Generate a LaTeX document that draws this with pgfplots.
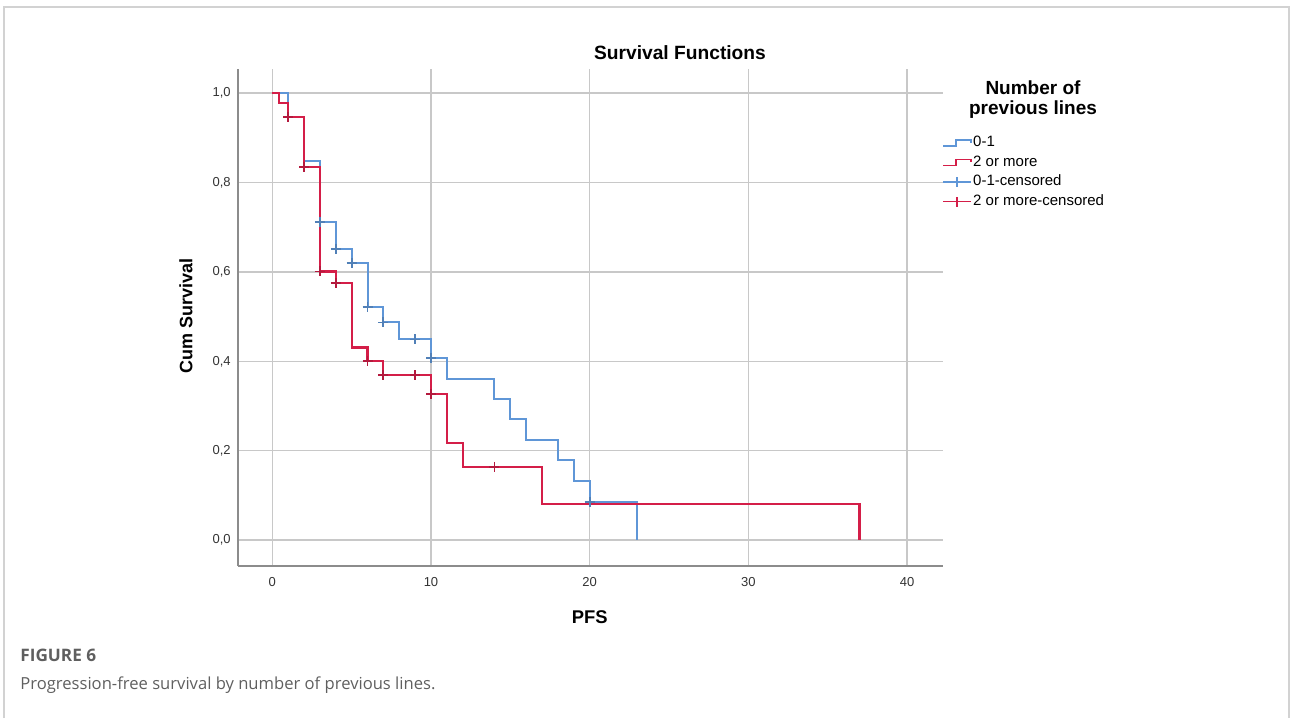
\documentclass[border=0pt]{standalone}
\usepackage{fontspec}
\setmainfont{Liberation Sans}
\newfontfamily\capfont{Open Sans}
\usepackage{pgfplots}
\pgfplotsset{compat=1.18}
\definecolor{kmblue}{RGB}{95,150,215}
\definecolor{kmred}{RGB}{212,30,72}
\definecolor{gridc}{RGB}{200,200,200}
\definecolor{axc}{RGB}{140,140,140}
\definecolor{framec}{RGB}{210,210,210}
\definecolor{capc}{RGB}{95,95,95}
\begin{document}
\begin{tikzpicture}
\path[use as bounding box] (0,0) rectangle (645pt,359pt);
\draw[framec, line width=0.9pt] (2pt,0) -- (2pt,355.3pt) -- (644.3pt,355.3pt) -- (644.3pt,0);
\begin{axis}[
  at={(119pt,76pt)}, anchor=south west,
  scale only axis, width=352.5pt, height=248.5pt,
  xmin=-2.16, xmax=42.26, ymin=-0.058, ymax=1.054,
  axis x line*=bottom, axis y line*=left,
  axis line style={-, axc, line width=0.8pt},
  xtick={0,10,20,30,40}, ytick={0,0.2,0.4,0.6,0.8,1.0},
  major tick length=0pt,
  grid=major, major grid style={gridc, line width=0.75pt},
  /pgf/number format/assume math mode=true,
  yticklabel style={/pgf/number format/.cd, fixed, fixed zerofill, precision=1, use comma, /tikz/.cd, font=\fontsize{6.5}{7}\selectfont, inner sep=0pt, xshift=-3.5pt, text=black!80},
  xticklabel style={font=\fontsize{6.5}{7}\selectfont, inner sep=0pt, yshift=-5.5pt, text=black!80},
  xlabel={\bfseries PFS}, ylabel={\bfseries Cum Survival},
  xlabel style={font=\fontsize{9.2}{10}\selectfont, at={(axis description cs:0.499,-0.103)}, anchor=center},
  ylabel style={font=\fontsize{9}{10}\selectfont, at={(axis description cs:-0.0738,0.503)}, anchor=center, rotate=0},
  legend cell align=left,
  legend style={at={(axis description cs:0.9986,0.869)}, anchor=north west, draw=none, fill=none, inner sep=0pt,
    font=\fontsize{7.5}{8}\selectfont, row sep=1.6pt,
    nodes={inner sep=0.6pt, text height=5.5pt, text depth=1.5pt}},
  clip=false,
]
\addplot[const plot, kmblue, line width=1pt,
  legend image code/.code={\draw[kmblue, line width=0.8pt] (0pt,-1.5pt) -- (6.5pt,-1.5pt) -- (6.5pt,1.5pt) -- (14pt,1.5pt) -- (14pt,0pt);}]
  coordinates {(0,1) (1,0.947) (2,0.848) (3,0.711) (4,0.652) (5,0.620) (6,0.522) (7,0.487) (8,0.449) (10,0.407) (11,0.361) (14,0.316) (15,0.271) (16,0.224) (18,0.179) (19,0.133) (20,0.086) (23,0)};
\addlegendentry{0-1}
\addplot[const plot, kmred, line width=1.1pt,
  legend image code/.code={\draw[kmred, line width=0.8pt] (0pt,-1.5pt) -- (6.5pt,-1.5pt) -- (6.5pt,1.5pt) -- (14pt,1.5pt) -- (14pt,0pt);}]
  coordinates {(0,1) (0.4,0.978) (1,0.947) (2,0.835) (3,0.601) (4,0.575) (5,0.431) (6,0.401) (7,0.369) (10,0.327) (11,0.218) (12,0.164) (17,0.081) (37,0)};
\addlegendentry{2 or more}
\addplot[only marks, mark=+, mark size=2.5pt, kmblue!85!black, mark options={line width=0.9pt},
  legend image code/.code={\draw[kmblue, line width=0.8pt] (0pt,0pt) -- (14pt,0pt); \draw[kmblue, line width=0.8pt] (7pt,-2.5pt) -- (7pt,2.5pt);}]
  coordinates {(3,0.711) (4,0.652) (5,0.620) (6,0.522) (7,0.487) (9,0.449) (10,0.407) (20,0.086)};
\addlegendentry{0-1-censored}
\addplot[only marks, mark=+, mark size=2.5pt, kmred!85!black, mark options={line width=0.9pt},
  legend image code/.code={\draw[kmred, line width=0.8pt] (0pt,0pt) -- (14pt,0pt); \draw[kmred, line width=0.8pt] (7pt,-2.5pt) -- (7pt,2.5pt);}]
  coordinates {(1,0.947) (2,0.835) (3,0.601) (4,0.575) (6,0.401) (7,0.369) (9,0.369) (10,0.327) (14,0.164)};
\addlegendentry{2 or more-censored}
\end{axis}
\node[font=\bfseries\fontsize{9.6}{11}\selectfont] at (340pt,332.5pt) {Survival Functions};
\node[font=\bfseries\fontsize{9.5}{10}\selectfont, align=center] at (516.5pt,309pt) {Number of\\previous lines};
\node[anchor=west, inner sep=0pt, text=capc, font=\capfont\bfseries\fontsize{8.6}{10}\selectfont] at (10pt,31.5pt) {FIGURE 6};
\node[anchor=west, inner sep=0pt, text=capc, font=\capfont\fontsize{8.3}{10}\selectfont] at (10pt,16.5pt) {Progression-free survival by number of previous lines.};
\end{tikzpicture}
\end{document}
